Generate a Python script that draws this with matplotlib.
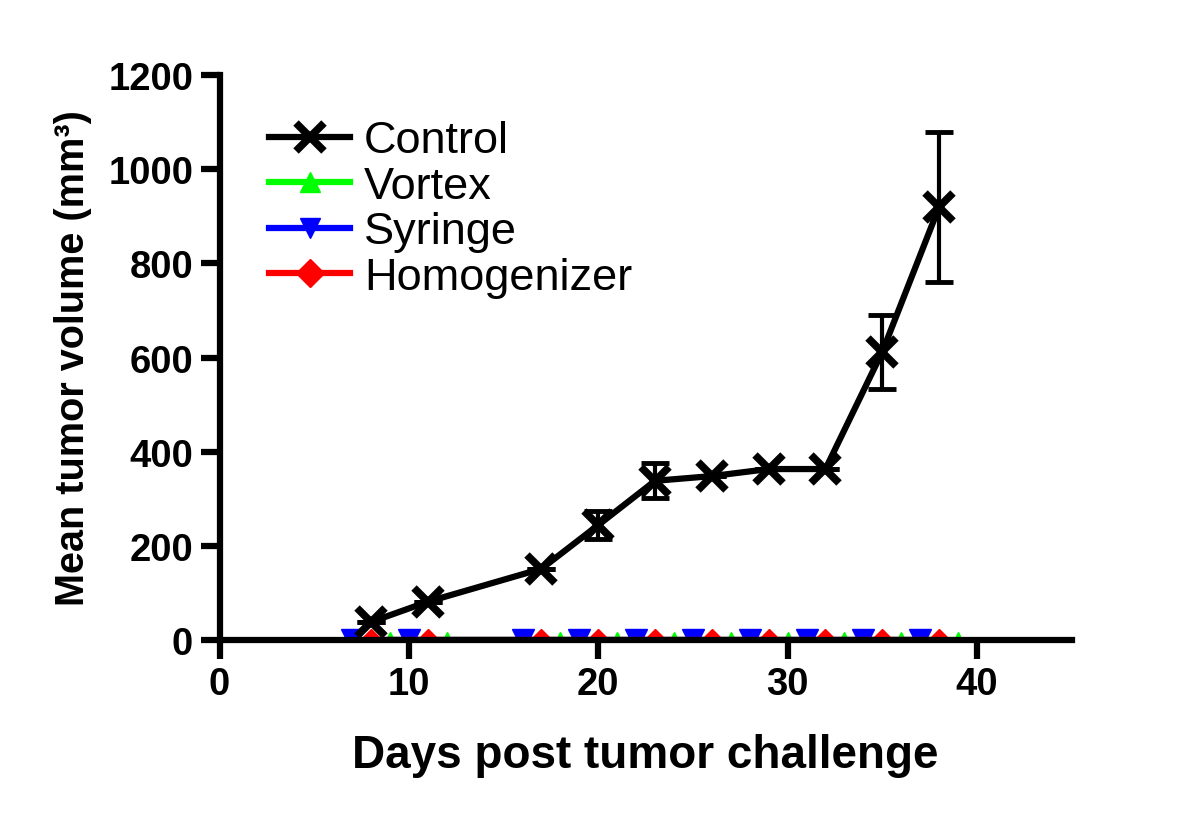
import numpy as np
import matplotlib
matplotlib.use("Agg")
import matplotlib.pyplot as plt

plt.rcParams['font.family'] = ['Liberation Sans', 'DejaVu Sans']

# data
control_days = [8, 11, 17, 20, 23, 26, 29, 32, 35, 38]
control_vol = [38, 81, 151, 244, 338, 348, 363, 363, 612, 920]
control_err = [0, 0, 0, 29, 37, 0, 0, 0, 78, 160]

vortex_days = [9, 12, 18, 21, 24, 27, 30, 33, 36, 39]
syringe_days = [7, 10, 16, 19, 22, 25, 28, 31, 34, 37]
homog_days = [8, 11, 17, 20, 23, 26, 29, 32, 35, 38]
vortex_vol = [0] * len(vortex_days)
syringe_vol = [0] * len(syringe_days)
homog_vol = [0] * len(homog_days)

fig = plt.figure(figsize=(12, 8.29), dpi=100)
ax = fig.add_axes([0.183, 0.227, 0.71, 0.681])

ax.plot(control_days, control_vol, color='black', lw=4.5, marker='x',
        ms=20, mew=5.5, label='Control', zorder=3)
ax.errorbar(control_days, control_vol, yerr=control_err, fmt='none',
            ecolor='black', elinewidth=3, capsize=10, capthick=3.5, zorder=3)
ax.plot(vortex_days, vortex_vol, color='#00ff00', lw=4.5, marker='^',
        ms=12, label='Vortex', zorder=2)
ax.plot(syringe_days, syringe_vol, color='#0000ff', lw=4.5, marker='v',
        ms=16, label='Syringe', zorder=2)
ax.plot(homog_days, homog_vol, color='#ff0000', lw=4.5, marker='D',
        ms=11, label='Homogenizer', zorder=2)

ax.set_xlim(0, 45)
ax.set_ylim(0, 1200)
ax.set_xticks([0, 10, 20, 30, 40])
ax.set_yticks(np.arange(0, 1201, 200))

for s in ['top', 'right']:
    ax.spines[s].set_visible(False)
for s in ['left', 'bottom']:
    ax.spines[s].set_linewidth(4.5)
    ax.spines[s].set_zorder(5)

ax.tick_params(direction='out', length=14, width=4.5, labelsize=27.5, pad=5)
for lab in ax.get_xticklabels() + ax.get_yticklabels():
    lab.set_fontweight('bold')

ax.set_xlabel('Days post tumor challenge', fontsize=33, fontweight='bold',
              labelpad=22)
ax.set_ylabel('Mean tumor volume (mm³)', fontsize=28.5, fontweight='bold',
              labelpad=12)

leg = ax.legend(loc='upper left', bbox_to_anchor=(0.037, 0.952), frameon=False,
                fontsize=32.5, handlelength=1.8, handletextpad=0.3,
                labelspacing=0.1, borderaxespad=0)
# legend symbols are drawn a bit larger than the ones on the axis
for h in leg.legend_handles[1:]:
    h.set_markersize(14)

fig.savefig('out.png', dpi=100)
